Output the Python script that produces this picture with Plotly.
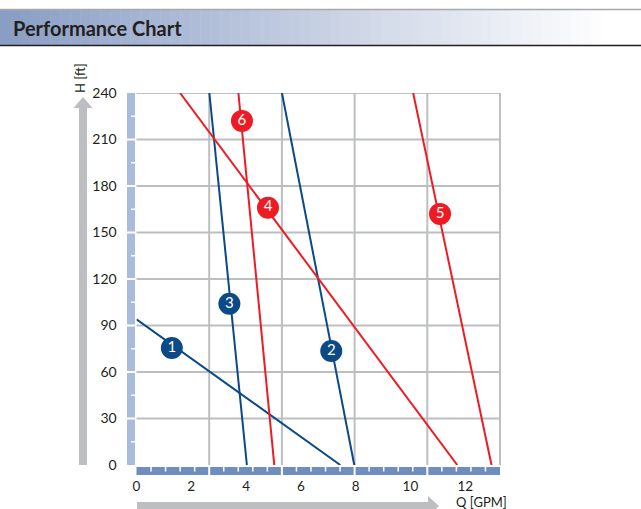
import plotly.graph_objects as go

# ---------------- data ----------------
CURVE_LABELS = ["1", "2", "3", "4", "5", "6"]
Q1 = [0.0, 7.44]
H1 = [94, 0]
Q2 = [5.31, 7.95]
H2 = [240, 0]
Q3 = [2.66, 4.03]
H3 = [240, 0]
Q4 = [1.59, 11.71]
H4 = [240, 0]
Q5 = [10.10, 12.96]
H5 = [240, 0]
Q6 = [3.72, 5.03]
H6 = [240, 0]
LABEL_Q = [1.29, 7.11, 3.39, 4.80, 11.08, 3.85]
LABEL_H = [75.5, 73.5, 104, 166, 162, 222]
X_TICKS = [0, 2, 4, 6, 8, 10, 12]
Y_TICKS = [0, 30, 60, 90, 120, 150, 180, 210, 240]

# ---------------- styles ----------------
W, H = 641, 509
BLUE = "#0b4a86"
RED = "#ed1c24"
GRID = "#bcbec0"
LEFTBAR = "#a9bcdb"
BOTBAR = "#6f8ebf"
ARROW = "#bdbec2"
TXT = "#231f20"
FONT = "Lato"

def px(x):
    return x / W

def py(y):
    return 1 - y / H

PLOT_L, PLOT_R, PLOT_T, PLOT_B = 136.5, 500, 93, 465
X_MAX = 13.27
Y_MAX = 240

colors = [BLUE, BLUE, BLUE, RED, RED, RED]
curves = [(Q1, H1), (Q2, H2), (Q3, H3), (Q4, H4), (Q5, H5), (Q6, H6)]

fig = go.Figure()
for (q, h), c, name in zip(curves, colors, CURVE_LABELS):
    fig.add_trace(go.Scatter(x=q, y=h, mode="lines", name=name,
                             line=dict(color=c, width=2), hoverinfo="skip"))

fig.add_trace(go.Scatter(
    x=LABEL_Q, y=LABEL_H, mode="markers+text", text=CURVE_LABELS,
    textposition="middle center",
    textfont=dict(family=FONT, size=15, color="white"),
    marker=dict(size=22, color=colors, line=dict(width=0)),
    hoverinfo="skip"))

shapes = []
# header gradient
N = 64
c0 = (138, 158, 197)
for i in range(N):
    t = i / (N - 1)
    r = int(c0[0] + (255 - c0[0]) * min(1, t * 1.05))
    g = int(c0[1] + (255 - c0[1]) * min(1, t * 1.05))
    b = int(c0[2] + (255 - c0[2]) * min(1, t * 1.05))
    shapes.append(dict(type="rect", xref="paper", yref="paper",
                       x0=px(i * W / N), x1=px((i + 1) * W / N + 0.5),
                       y0=py(45.5), y1=py(10), fillcolor=f"rgb({r},{g},{b})",
                       line=dict(width=0), layer="below"))
shapes.append(dict(type="line", xref="paper", yref="paper", x0=0, x1=1,
                   y0=py(9.5), y1=py(9.5), line=dict(color="#a7a9ac", width=1.5)))
shapes.append(dict(type="line", xref="paper", yref="paper", x0=0, x1=1,
                   y0=py(45.5), y1=py(45.5), line=dict(color=TXT, width=1.5)))

# grid lines
for k in range(1, 6):
    shapes.append(dict(type="line", xref="x domain", yref="y", x0=k / 5, x1=k / 5,
                       y0=0, y1=Y_MAX, line=dict(color=GRID, width=2), layer="below"))
for v in Y_TICKS[1:]:
    shapes.append(dict(type="line", xref="x domain", yref="y", x0=0, x1=1,
                       y0=v, y1=v, line=dict(color=GRID, width=2), layer="below"))

# left bar
shapes.append(dict(type="rect", xref="paper", yref="y", x0=px(127), x1=px(135),
                   y0=0, y1=Y_MAX, fillcolor=LEFTBAR, line=dict(width=0)))
for v in Y_TICKS[1:-1]:
    shapes.append(dict(type="line", xref="paper", yref="y", x0=px(126), x1=px(136),
                       y0=v, y1=v, line=dict(color="white", width=2)))
for v in Y_TICKS[:-1]:
    shapes.append(dict(type="line", xref="paper", yref="y", x0=px(131), x1=px(135.5),
                       y0=v + 15, y1=v + 15, line=dict(color="white", width=1.5)))

# bottom bar
shapes.append(dict(type="rect", xref="x domain", yref="paper", x0=0, x1=1,
                   y0=py(475), y1=py(467), fillcolor=BOTBAR, line=dict(width=0)))
for k in range(1, 5):
    shapes.append(dict(type="line", xref="x domain", yref="paper", x0=k / 5, x1=k / 5,
                       y0=py(476), y1=py(466), line=dict(color="white", width=2)))
for k in range(5):
    for j in range(1, 5):
        xx = (k + j / 5) / 5
        shapes.append(dict(type="line", xref="x domain", yref="paper", x0=xx, x1=xx,
                           y0=py(471.5), y1=py(467), line=dict(color="white", width=1.5)))

# vertical arrow
shapes.append(dict(type="path", xref="paper", yref="paper",
                   path=(f"M {px(79)} {py(465)} L {px(87)} {py(465)} L {px(87)} {py(108)} "
                         f"L {px(92.5)} {py(108)} L {px(83)} {py(97)} L {px(73.5)} {py(108)} "
                         f"L {px(79)} {py(108)} Z"),
                   fillcolor=ARROW, line=dict(width=0)))
# horizontal arrow
shapes.append(dict(type="path", xref="paper", yref="paper",
                   path=(f"M {px(137)} {py(502)} L {px(428)} {py(502)} L {px(428)} {py(496)} "
                         f"L {px(439)} {py(506)} L {px(428)} {py(516)} L {px(428)} {py(510)} "
                         f"L {px(137)} {py(510)} Z"),
                   fillcolor=ARROW, line=dict(width=0)))

annotations = [
    dict(text="<b>Performance Chart</b>", xref="paper", yref="paper", x=px(11), y=py(28.5),
         xanchor="left", yanchor="middle", showarrow=False,
         font=dict(family=FONT, size=20, color=TXT)),
    dict(text="H [ft]", xref="paper", yref="paper", x=px(80), y=py(78),
         xanchor="center", yanchor="middle", showarrow=False, textangle=-90,
         font=dict(family=FONT, size=13, color=TXT)),
    dict(text="Q [GPM]", xref="paper", yref="paper", x=px(481), y=py(502),
         xanchor="center", yanchor="middle", showarrow=False,
         font=dict(family=FONT, size=13, color=TXT)),
]

fig.update_layout(
    width=W, height=H, autosize=False,
    margin=dict(l=0, r=0, t=0, b=0, pad=0),
    paper_bgcolor="white", plot_bgcolor="white",
    showlegend=False,
    shapes=shapes, annotations=annotations,
    xaxis=dict(domain=[px(PLOT_L), px(PLOT_R)], range=[0, X_MAX],
               tickvals=X_TICKS, ticktext=[str(v) for v in X_TICKS],
               showgrid=False, zeroline=False, showline=False, automargin=False,
               ticks="outside", ticklen=9, tickcolor="rgba(0,0,0,0)",
               tickfont=dict(family=FONT, size=13.5, color=TXT), fixedrange=True),
    yaxis=dict(domain=[py(PLOT_B), py(PLOT_T)], range=[0, Y_MAX],
               tickvals=Y_TICKS, ticktext=[str(v) for v in Y_TICKS],
               showgrid=False, zeroline=False, showline=False, automargin=False,
               ticks="outside", ticklen=16, tickcolor="rgba(0,0,0,0)",
               tickfont=dict(family=FONT, size=14, color=TXT), fixedrange=True),
)

fig.write_html("out.html", config={"displayModeBar": False},
               post_script="document.body.style.margin='0';document.body.style.overflow='hidden';")
